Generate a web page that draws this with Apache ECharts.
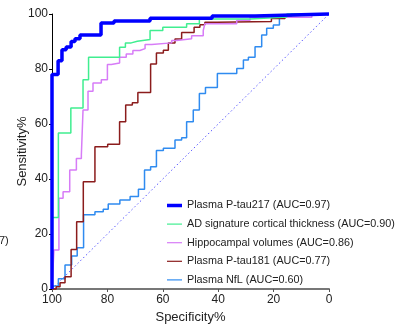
<!DOCTYPE html>
<html>
<head>
<meta charset="utf-8">
<script src="https://cdn.jsdelivr.net/npm/echarts@6/dist/echarts.min.js"></script>
<style>
html,body{margin:0;padding:0;background:#fff;}
#chart{width:404px;height:331px;}
</style>
</head>
<body>
<div id="chart"></div>
<script>
// Series names (legend)
const seriesNames = [
  "Plasma P-tau217 (AUC=0.97)",
  "AD signature cortical thickness (AUC=0.90)",
  "Hippocampal volumes (AUC=0.86)",
  "Plasma P-tau181 (AUC=0.77)",
  "Plasma NfL (AUC=0.60)"
];

// Axis ticks
const xTicks = [100, 80, 60, 40, 20, 0];
const yTicks = [0, 20, 40, 60, 80, 100];

// Plasma P-tau217
const specPtau217 = [100, 100, 97.8, 96.4, 94.9, 93.1, 91.7, 89.9, 82.3, 77.6, 64.6, 42.2, 26.7, 0];
const sensPtau217 = [0, 78, 83, 87, 88, 90, 91, 92.4, 96.7, 97.5, 98.5, 99.3, 100, 100];

// AD signature cortical thickness
const specThick = [100, 100, 97.7, 93.2, 88.8, 86.8, 75.6, 73.5, 71.4, 69.2, 64.6, 60.0, 51.4, 46.8, 28.5, 15.2, 0];
const sensThick = [0, 26, 56.7, 65.8, 76.1, 84.3, 87.9, 89.5, 90.1, 90.7, 94, 95.2, 96.5, 98.2, 98.9, 100, 100];

// Hippocampal volumes
const specHippo = [100, 99.3, 97.5, 96.0, 93.6, 91.2, 89.4, 88.8, 87.0, 85.2, 82.2, 80.0, 78.6, 75.6, 73.2, 70.8, 68.3, 66.4, 64.0, 56.8, 55.0, 49.6, 45.4, 44.8, 33.3, 28.5, 6.2, 0];
const sensHippo = [0, 14.2, 33, 35.4, 43.3, 47.5, 48.7, 65.1, 71.9, 74.9, 76.1, 81.6, 82.2, 84.3, 85.5, 86.7, 87.4, 88.9, 89.5, 90.4, 91.0, 92.1, 94, 96.5, 97.7, 98.8, 100, 100];

// Plasma P-tau181
const specPtau181 = [100, 98.5, 97.1, 95.3, 93.1, 91.1, 88.7, 84.5, 79.9, 75.6, 73.4, 71.0, 69.0, 64.4, 62.3, 59.8, 58.0, 55.6, 53.2, 48.7, 46.6, 44.8, 40.3, 20.8, 15.9, 13.9, 0];
const sensPtau181 = [0, 0.8, 2.3, 4.5, 14.4, 24.5, 39, 51.7, 52.6, 60.8, 66.9, 67.7, 71.5, 81.8, 85.8, 86.8, 89.5, 90.9, 93.3, 95.2, 96.1, 97, 97.3, 98.4, 99.4, 100, 100];

// Plasma NfL
const specNfL = [100, 99.5, 97.7, 95.3, 92.9, 90.9, 88.6, 84.5, 81.5, 79.7, 75.5, 71.8, 68.8, 66.6, 64.4, 62.3, 59.8, 55.6, 53.2, 51.4, 49.0, 46.8, 44.6, 40.3, 33.3, 30.9, 29.1, 26.7, 24.3, 22.5, 20.1, 17.9, 13.7, 0];
const sensNfL = [0, 1.1, 3.7, 8.7, 12, 15, 27, 28.1, 29, 30.9, 32.4, 33.6, 36.3, 43.3, 44.5, 50.4, 51.2, 54.2, 55, 60.8, 65.1, 71.1, 73.3, 78.4, 80.2, 83.3, 84.3, 88.1, 92.4, 94.8, 96, 99, 100, 100];

// Reference diagonal
const specRef = [100, 0];
const sensRef = [0, 100];

// Colours and line widths
const colors = ['#0000ff', '#40ee90', '#d77cf7', '#8b1c1c', '#2f8bf0'];
const widths = [3.5, 1.5, 1.5, 1.5, 1.5];

function zip(a, b) { return a.map((v, i) => [v, b[i]]); }

const chart = echarts.init(document.getElementById('chart'), null, {renderer: 'canvas'});

function rocSeries(idx, spec, sens, z) {
  return {
    name: seriesNames[idx],
    type: 'line',
    step: 'end',
    data: zip(spec, sens),
    symbol: 'none',
    clip: false,
    z: z,
    lineStyle: {color: colors[idx], width: widths[idx]},
    itemStyle: {color: colors[idx]},
    emphasis: {disabled: true},
    animation: false
  };
}

const FONT = 'Liberation Sans, Arial, sans-serif';

const option = {
  animation: false,
  grid: {left: 52, right: 75, top: 14, bottom: 42, containLabel: false, outerBoundsMode: 'none'},
  legend: {
    orient: 'vertical',
    left: 167,
    top: 200,
    padding: 0,
    itemWidth: 15,
    itemHeight: 12,
    itemGap: 7.6,
    data: seriesNames.map((n, i) => ({
      name: n,
      icon: i === 0 ? 'path://M0 0H15V3.5H0Z' : 'path://M0 0H15V1.2H0Z'
    })),
    textStyle: {fontFamily: FONT, fontSize: 10.8, color: '#222'},
    selectedMode: false
  },
  xAxis: {
    type: 'value',
    inverse: true,
    min: 0, max: 100, interval: 20,
    name: 'Specificity%',
    nameLocation: 'middle',
    nameGap: 22,
    nameMoveOverlap: false,
    nameTextStyle: {fontFamily: FONT, fontSize: 13, color: '#222'},
    axisLine: {show: true, onZero: false, lineStyle: {color: '#777', width: 2}},
    axisTick: {show: true, length: 3, lineStyle: {color: '#555', width: 1}},
    axisLabel: {fontFamily: FONT, fontSize: 12, color: '#222', margin: 5,
      formatter: v => xTicks.indexOf(v) >= 0 ? String(v) : ''},
    splitLine: {show: false}
  },
  yAxis: {
    type: 'value',
    min: 0, max: 100, interval: 20,
    name: 'Sensitivity%',
    nameLocation: 'middle',
    nameGap: 23,
    nameMoveOverlap: false,
    nameTextStyle: {fontFamily: FONT, fontSize: 13, color: '#222'},
    axisLine: {show: true, onZero: false, lineStyle: {color: '#000', width: 1}},
    axisTick: {show: true, length: 3, lineStyle: {color: '#000', width: 1}},
    axisLabel: {fontFamily: FONT, fontSize: 12, color: '#222', margin: 4,
      formatter: v => yTicks.indexOf(v) >= 0 ? String(v) : ''},
    splitLine: {show: false}
  },
  graphic: [{
    type: 'text', left: -1, top: 235,
    style: {text: '7)', font: '11px "Liberation Sans", Arial, sans-serif', fill: '#222'}
  }],
  series: [
    {
      name: 'ref', type: 'line', data: zip(specRef, sensRef), symbol: 'none', z: 1,
      lineStyle: {color: '#5a5aff', width: 1, type: [1.5, 2.5]}, animation: false, silent: true
    },
    rocSeries(4, specNfL, sensNfL, 2),
    rocSeries(3, specPtau181, sensPtau181, 3),
    rocSeries(2, specHippo, sensHippo, 4),
    rocSeries(1, specThick, sensThick, 5),
    rocSeries(0, specPtau217, sensPtau217, 6)
  ]
};
chart.setOption(option);
</script>
</body>
</html>
